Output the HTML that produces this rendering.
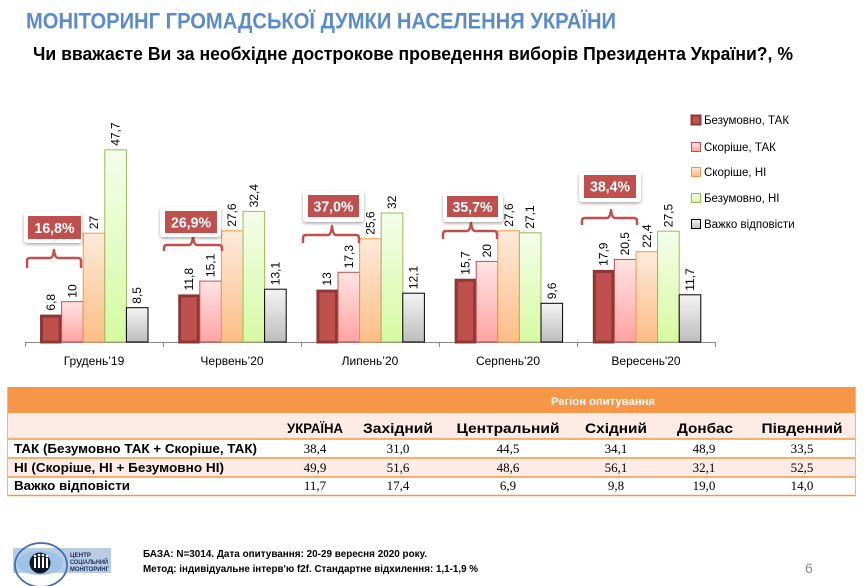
<!DOCTYPE html>
<html><head><meta charset="utf-8"><style>
html,body{margin:0;padding:0;background:#fff;}
svg{display:block;font-family:"Liberation Sans","DejaVu Sans",sans-serif;}
</style></head><body>
<svg width="864" height="586" viewBox="0 0 864 586" xmlns="http://www.w3.org/2000/svg">
<defs>
<linearGradient id="gPink" x1="0" y1="0" x2="0" y2="1"><stop offset="0" stop-color="#ffe4e4"/><stop offset="1" stop-color="#ffa3a3"/></linearGradient>
<linearGradient id="gOr" x1="0" y1="0" x2="0" y2="1"><stop offset="0" stop-color="#fdeadb"/><stop offset="1" stop-color="#fbbd86"/></linearGradient>
<linearGradient id="gGr" x1="0" y1="0" x2="0" y2="1"><stop offset="0" stop-color="#f4fdea"/><stop offset="1" stop-color="#d6f9a2"/></linearGradient>
<linearGradient id="gGy" x1="0" y1="0" x2="0" y2="1"><stop offset="0" stop-color="#f4f4f4"/><stop offset="1" stop-color="#bdbdbd"/></linearGradient>
<filter id="sh" x="-30%" y="-30%" width="160%" height="170%"><feDropShadow dx="0" dy="1.5" stdDeviation="1.6" flood-color="#000" flood-opacity="0.35"/></filter>
</defs>

<!-- Titles -->
<text x="26" y="28.5" font-size="22.5" font-weight="bold" fill="#5b8bc9" textLength="590" lengthAdjust="spacingAndGlyphs">МОНІТОРИНГ ГРОМАДСЬКОЇ ДУМКИ НАСЕЛЕННЯ УКРАЇНИ</text>
<text x="33" y="60" font-size="18" font-weight="bold" fill="#000" textLength="760" lengthAdjust="spacingAndGlyphs">Чи вважаєте Ви за необхідне дострокове проведення виборів Президента  України?, %</text>

<!-- Axis -->
<line x1="25" y1="342.5" x2="716" y2="342.5" stroke="#8a8a8a" stroke-width="1"/>
<g stroke="#8a8a8a" stroke-width="1">
<line x1="25.5" y1="342" x2="25.5" y2="347"/>
<line x1="163.5" y1="342" x2="163.5" y2="347"/>
<line x1="301.5" y1="342" x2="301.5" y2="347"/>
<line x1="439.5" y1="342" x2="439.5" y2="347"/>
<line x1="577.5" y1="342" x2="577.5" y2="347"/>
<line x1="715.5" y1="342" x2="715.5" y2="347"/>
</g>

<!-- Group 1 -->
<g>
<rect x="41.5" y="316.1" width="18.6" height="25.9" fill="#c0504d" stroke="#8c3835" stroke-width="3"/>
<rect x="61.6" y="301.7" width="21.6" height="40.3" fill="url(#gPink)" stroke="#c0504d" stroke-width="1"/>
<rect x="83.2" y="233.2" width="21.6" height="108.8" fill="url(#gOr)" stroke="#f79646" stroke-width="1"/>
<rect x="104.8" y="149.8" width="21.6" height="192.2" fill="url(#gGr)" stroke="#9bbb59" stroke-width="1"/>
<rect x="126.4" y="307.7" width="21.6" height="34.3" fill="url(#gGy)" stroke="#000" stroke-width="1"/>
</g>
<!-- Group 2 -->
<g>
<rect x="179.7" y="295.9" width="18.6" height="46.1" fill="#c0504d" stroke="#8c3835" stroke-width="3"/>
<rect x="199.8" y="281.1" width="21.6" height="60.9" fill="url(#gPink)" stroke="#c0504d" stroke-width="1"/>
<rect x="221.4" y="230.8" width="21.6" height="111.2" fill="url(#gOr)" stroke="#f79646" stroke-width="1"/>
<rect x="243" y="211.4" width="21.6" height="130.6" fill="url(#gGr)" stroke="#9bbb59" stroke-width="1"/>
<rect x="264.6" y="289.2" width="21.6" height="52.8" fill="url(#gGy)" stroke="#000" stroke-width="1"/>
</g>
<!-- Group 3 -->
<g>
<rect x="317.9" y="291.1" width="18.6" height="50.9" fill="#c0504d" stroke="#8c3835" stroke-width="3"/>
<rect x="338" y="272.3" width="21.6" height="69.7" fill="url(#gPink)" stroke="#c0504d" stroke-width="1"/>
<rect x="359.6" y="238.8" width="21.6" height="103.2" fill="url(#gOr)" stroke="#f79646" stroke-width="1"/>
<rect x="381.2" y="213" width="21.6" height="129" fill="url(#gGr)" stroke="#9bbb59" stroke-width="1"/>
<rect x="402.8" y="293.2" width="21.6" height="48.8" fill="url(#gGy)" stroke="#000" stroke-width="1"/>
</g>
<!-- Group 4 -->
<g>
<rect x="456.1" y="280.2" width="18.6" height="61.8" fill="#c0504d" stroke="#8c3835" stroke-width="3"/>
<rect x="476.2" y="261.4" width="21.6" height="80.6" fill="url(#gPink)" stroke="#c0504d" stroke-width="1"/>
<rect x="497.8" y="230.8" width="21.6" height="111.2" fill="url(#gOr)" stroke="#f79646" stroke-width="1"/>
<rect x="519.4" y="232.8" width="21.6" height="109.2" fill="url(#gGr)" stroke="#9bbb59" stroke-width="1"/>
<rect x="541" y="303.3" width="21.6" height="38.7" fill="url(#gGy)" stroke="#000" stroke-width="1"/>
</g>
<!-- Group 5 -->
<g>
<rect x="594.3" y="271.4" width="18.6" height="70.6" fill="#c0504d" stroke="#8c3835" stroke-width="3"/>
<rect x="614.4" y="259.4" width="21.6" height="82.6" fill="url(#gPink)" stroke="#c0504d" stroke-width="1"/>
<rect x="636" y="251.7" width="21.6" height="90.3" fill="url(#gOr)" stroke="#f79646" stroke-width="1"/>
<rect x="657.6" y="231.2" width="21.6" height="110.8" fill="url(#gGr)" stroke="#9bbb59" stroke-width="1"/>
<rect x="679.2" y="294.8" width="21.6" height="47.2" fill="url(#gGy)" stroke="#000" stroke-width="1"/>
</g>

<!-- Data labels -->
<g font-size="12" fill="#000">
<text transform="translate(54.8,310.6) rotate(-90)">6,8</text>
<text transform="translate(76.4,297.7) rotate(-90)">10</text>
<text transform="translate(98,229.2) rotate(-90)">27</text>
<text transform="translate(119.6,145.8) rotate(-90)">47,7</text>
<text transform="translate(141.2,303.7) rotate(-90)">8,5</text>

<text transform="translate(193,290.4) rotate(-90)">11,8</text>
<text transform="translate(214.6,277.1) rotate(-90)">15,1</text>
<text transform="translate(236.2,226.8) rotate(-90)">27,6</text>
<text transform="translate(257.8,207.4) rotate(-90)">32,4</text>
<text transform="translate(279.4,285.2) rotate(-90)">13,1</text>

<text transform="translate(331.2,285.6) rotate(-90)">13</text>
<text transform="translate(352.8,268.3) rotate(-90)">17,3</text>
<text transform="translate(374.4,234.8) rotate(-90)">25,6</text>
<text transform="translate(396,209) rotate(-90)">32</text>
<text transform="translate(417.6,289.2) rotate(-90)">12,1</text>

<text transform="translate(469.4,274.7) rotate(-90)">15,7</text>
<text transform="translate(491,257.4) rotate(-90)">20</text>
<text transform="translate(513,226.8) rotate(-90)">27,6</text>
<text transform="translate(534.2,228.8) rotate(-90)">27,1</text>
<text transform="translate(555.8,299.3) rotate(-90)">9,6</text>

<text transform="translate(607.6,265.9) rotate(-90)">17,9</text>
<text transform="translate(629.2,255.4) rotate(-90)">20,5</text>
<text transform="translate(650.8,247.7) rotate(-90)">22,4</text>
<text transform="translate(672.4,227.2) rotate(-90)">27,5</text>
<text transform="translate(694,290.8) rotate(-90)">11,7</text>
</g>

<!-- Category labels -->
<g font-size="12" fill="#000" text-anchor="middle">
<text x="94" y="365">Грудень’19</text>
<text x="232" y="365">Червень’20</text>
<text x="370" y="365">Липень’20</text>
<text x="508" y="365">Серпень’20</text>
<text x="646" y="365">Вересень'20</text>
</g>

<!-- Braces -->
<g fill="none" stroke="#c0504d" stroke-width="2.5" stroke-linejoin="round" stroke-linecap="round">
<path d="M27,267 L27,261 Q27,258 30,258 L50,258 Q53,258 54,250 Q55,258 58,258 L78,258 Q81,258 81,261 L81,267"/>
<path d="M164,250 L164,248 Q164,245 167,245 L189,245 Q192,245 193,237 Q194,245 197,245 L219,245 Q222,245 222,248 L222,250"/>
<path d="M303,242 L303,238 Q303,235 306,235 L328,235 Q331,235 332,226 Q333,235 336,235 L356,235 Q359,235 359,238 L359,242"/>
<path d="M443,238 L443,234 Q443,231 446,231 L467,231 Q470,231 471,223 Q472,231 475,231 L494,231 Q497,231 497,234 L497,238"/>
<path d="M582,224 L582,221 Q582,218 585,218 L607,218 Q610,218 611,210 Q612,218 615,218 L634,218 Q637,218 637,221 L637,224"/>
</g>

<!-- Callouts -->
<g>
<rect x="24" y="212" width="58" height="31" rx="3" fill="#fff" filter="url(#sh)"/>
<rect x="28" y="216" width="53" height="23" fill="#c0504d"/>
<text x="54.5" y="233" font-size="15" font-weight="bold" fill="#fff" text-anchor="middle" textLength="40" lengthAdjust="spacingAndGlyphs">16,8%</text>

<rect x="160" y="207" width="61" height="30" rx="3" fill="#fff" filter="url(#sh)"/>
<rect x="165" y="211" width="52" height="22" fill="#c0504d"/>
<text x="191" y="227.5" font-size="15" font-weight="bold" fill="#fff" text-anchor="middle" textLength="40" lengthAdjust="spacingAndGlyphs">26,9%</text>

<rect x="303" y="191" width="61" height="31" rx="3" fill="#fff" filter="url(#sh)"/>
<rect x="308" y="195" width="51" height="22" fill="#c0504d"/>
<text x="333.5" y="211.5" font-size="15" font-weight="bold" fill="#fff" text-anchor="middle" textLength="40" lengthAdjust="spacingAndGlyphs">37,0%</text>

<rect x="443" y="193" width="60" height="29" rx="3" fill="#fff" filter="url(#sh)"/>
<rect x="447" y="196" width="51" height="21" fill="#c0504d"/>
<text x="472.5" y="212" font-size="15" font-weight="bold" fill="#fff" text-anchor="middle" textLength="40" lengthAdjust="spacingAndGlyphs">35,7%</text>

<rect x="579" y="172" width="62" height="30" rx="3" fill="#fff" filter="url(#sh)"/>
<rect x="584" y="175" width="52" height="23" fill="#c0504d"/>
<text x="610" y="191.5" font-size="15" font-weight="bold" fill="#fff" text-anchor="middle" textLength="40" lengthAdjust="spacingAndGlyphs">38,4%</text>
</g>

<!-- Legend -->
<g font-size="11.5" fill="#000">
<rect x="691.5" y="115.5" width="9" height="9" fill="#c0504d" stroke="#8c3835" stroke-width="2"/>
<text x="704" y="124">Безумовно, ТАК</text>
<rect x="691.5" y="142.5" width="9" height="9" fill="url(#gPink)" stroke="#c0504d" stroke-width="1"/>
<text x="704" y="151">Скоріше, ТАК</text>
<rect x="691.5" y="167.5" width="9" height="9" fill="url(#gOr)" stroke="#f79646" stroke-width="1"/>
<text x="704" y="176">Скоріше, НІ</text>
<rect x="691.5" y="193.5" width="9" height="9" fill="url(#gGr)" stroke="#9bbb59" stroke-width="1"/>
<text x="704" y="202">Безумовно, НІ</text>
<rect x="691.5" y="219.5" width="9" height="9" fill="url(#gGy)" stroke="#000" stroke-width="1"/>
<text x="704" y="228">Важко відповісти</text>
</g>

<!-- Table -->
<rect x="7" y="387" width="849" height="26" fill="#f79646"/>
<text x="603" y="405" font-size="11" font-weight="bold" fill="#fff" text-anchor="middle" textLength="104" lengthAdjust="spacingAndGlyphs">Регіон опитування</text>
<rect x="7" y="413" width="849" height="26" fill="#fcece5"/>
<rect x="7" y="458" width="849" height="19" fill="#fcece5"/>
<g stroke="#f79646" stroke-width="1.5">
<line x1="7" y1="439" x2="856" y2="439"/>
<line x1="7" y1="458" x2="856" y2="458"/>
<line x1="7" y1="477" x2="856" y2="477"/>
<line x1="7" y1="495.5" x2="856" y2="495.5"/>
</g>
<g stroke="#f8b583" stroke-width="1">
<line x1="7.5" y1="387" x2="7.5" y2="496"/>
<line x1="855.5" y1="387" x2="855.5" y2="496"/>
</g>
<g font-size="14" font-weight="bold" fill="#000" text-anchor="middle">
<text x="315" y="433" textLength="56" lengthAdjust="spacingAndGlyphs">УКРАЇНА</text>
<text x="398" y="433" textLength="70" lengthAdjust="spacingAndGlyphs">Західний</text>
<text x="508" y="433" textLength="103" lengthAdjust="spacingAndGlyphs">Центральний</text>
<text x="616" y="433" textLength="62" lengthAdjust="spacingAndGlyphs">Східний</text>
<text x="705" y="433" textLength="56" lengthAdjust="spacingAndGlyphs">Донбас</text>
<text x="802" y="433" textLength="81" lengthAdjust="spacingAndGlyphs">Південний</text>
</g>
<g font-size="13" font-weight="bold" fill="#000">
<text x="14" y="453" textLength="243" lengthAdjust="spacingAndGlyphs">ТАК (Безумовно ТАК + Скоріше, ТАК)</text>
<text x="14" y="472" textLength="210" lengthAdjust="spacingAndGlyphs">НІ (Скоріше, НІ + Безумовно НІ)</text>
<text x="14" y="490" textLength="116" lengthAdjust="spacingAndGlyphs">Важко відповісти</text>
</g>
<g font-family="Liberation Serif, serif" font-size="13" fill="#000" text-anchor="middle">
<text x="315" y="453">38,4</text><text x="398" y="453">31,0</text><text x="508" y="453">44,5</text><text x="616" y="453">34,1</text><text x="704" y="453">48,9</text><text x="802" y="453">33,5</text>
<text x="315" y="472">49,9</text><text x="398" y="472">51,6</text><text x="508" y="472">48,6</text><text x="616" y="472">56,1</text><text x="704" y="472">32,1</text><text x="802" y="472">52,5</text>
<text x="315" y="490">11,7</text><text x="398" y="490">17,4</text><text x="508" y="490">6,9</text><text x="616" y="490">9,8</text><text x="704" y="490">19,0</text><text x="802" y="490">14,0</text>
</g>

<!-- Logo -->
<g>
<rect x="13" y="548" width="98" height="25" fill="#b8cce4"/>
<ellipse cx="41" cy="565" rx="26" ry="22" fill="none" stroke="#3e6fb5" stroke-width="1.8"/>
<ellipse cx="40" cy="563" rx="23" ry="12" fill="#9fc3e6"/>
<circle cx="40" cy="563" r="10.5" fill="#10182e"/>
<g fill="#fff">
<rect x="34" y="558" width="2" height="10"/><rect x="38" y="557" width="2" height="11"/><rect x="42" y="557" width="2" height="11"/><rect x="46" y="558" width="2" height="10"/>
<circle cx="35" cy="556" r="1.3"/><circle cx="39" cy="555" r="1.3"/><circle cx="43" cy="555" r="1.3"/><circle cx="47" cy="556" r="1.3"/>
</g>
<g font-size="6" font-weight="bold" fill="#1f2f5a">
<text x="70" y="557" textLength="21" lengthAdjust="spacingAndGlyphs">ЦЕНТР</text>
<text x="70" y="564" textLength="38" lengthAdjust="spacingAndGlyphs">СОЦІАЛЬНИЙ</text>
<text x="70" y="571" textLength="39" lengthAdjust="spacingAndGlyphs">МОНІТОРИНГ</text>
</g>
</g>

<!-- Footer -->
<g font-size="10" font-weight="bold" fill="#000">
<text x="143" y="557" textLength="284" lengthAdjust="spacingAndGlyphs">БАЗА: N=3014. Дата опитування: 20-29 вересня 2020 року.</text>
<text x="143" y="572" textLength="335" lengthAdjust="spacingAndGlyphs">Метод: індивідуальне інтерв'ю f2f. Стандартне відхилення: 1,1-1,9 %</text>
</g>
<text x="805" y="573" font-size="14" fill="#8c8c8c">6</text>
</svg>
</body></html>
